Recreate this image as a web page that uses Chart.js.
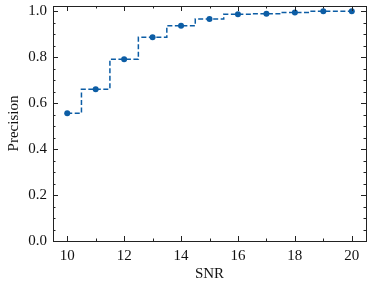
<!DOCTYPE html>
<html>
<head>
<meta charset="utf-8">
<script src="https://cdn.jsdelivr.net/npm/chart.js@4"></script>
<style>
  html, body { margin: 0; padding: 0; background: #fff; }
  canvas { display: block; }
</style>
</head>
<body>
<canvas id="chart" width="373" height="288"></canvas>
<script>
// data
const snr = [10, 11, 12, 13, 14, 15, 16, 17, 18, 19, 20];
const precision = [0.556, 0.66, 0.79, 0.886, 0.936, 0.965, 0.986, 0.988, 0.994, 0.999, 0.999];

const xTicks = [10, 12, 14, 16, 18, 20];
const xMinor = [11, 13, 15, 17, 19];
const yTicks = [0, 0.2, 0.4, 0.6, 0.8, 1.0];
const yMinor = [0.05, 0.1, 0.15, 0.25, 0.3, 0.35, 0.45, 0.5, 0.55, 0.65, 0.7, 0.75, 0.85, 0.9, 0.95];

const blue = '#0C5DA5';
const axisColor = '#222';
const serif = "'Liberation Serif', 'DejaVu Serif', serif";

// box frame + inward ticks on all four sides, like the matplotlib style
const insideTicks = {
  id: 'insideTicks',
  afterDraw(chart) {
    const { ctx, chartArea: a, scales: { x, y } } = chart;
    ctx.save();
    ctx.strokeStyle = axisColor;
    ctx.lineWidth = 1;
    ctx.strokeRect(Math.round(a.left) + 0.5, Math.round(a.top) + 0.5,
      Math.round(a.right - a.left), Math.round(a.bottom - a.top));
    ctx.beginPath();
    const xt = (vals, len) => vals.forEach(v => {
      const px = Math.round(x.getPixelForValue(v)) + 0.5;
      ctx.moveTo(px, a.bottom); ctx.lineTo(px, a.bottom - len);
      ctx.moveTo(px, a.top); ctx.lineTo(px, a.top + len);
    });
    const yt = (vals, len) => vals.forEach(v => {
      const py = Math.round(y.getPixelForValue(v)) + 0.5;
      ctx.moveTo(a.left, py); ctx.lineTo(a.left + len, py);
      ctx.moveTo(a.right, py); ctx.lineTo(a.right - len, py);
    });
    xt(xTicks, 5); xt(xMinor, 2.5);
    yt(yTicks, 5); yt(yMinor, 2.5);
    ctx.stroke();
    ctx.restore();
  }
};

new Chart(document.getElementById('chart'), {
  type: 'line',
  data: {
    datasets: [{
      data: snr.map((s, i) => ({ x: s, y: precision[i] })),
      borderColor: blue,
      backgroundColor: blue,
      borderWidth: 1.5,
      borderDash: [5, 2.5],
      stepped: 'middle',
      pointRadius: 3,
      pointBorderWidth: 0,
      fill: false
    }]
  },
  options: {
    responsive: false,
    animation: false,
    layout: { padding: { top: 6, right: 7, left: 0, bottom: 0 } },
    plugins: { legend: { display: false }, tooltip: { enabled: false } },
    scales: {
      x: {
        type: 'linear',
        min: 9.5,
        max: 20.5,
        afterBuildTicks: s => { s.ticks = xTicks.map(v => ({ value: v })); },
        afterFit: s => { s.height = 47; s.paddingLeft = 0; s.paddingRight = 0; },
        grid: { display: false, drawTicks: false },
        border: { display: false },
        ticks: {
          color: '#111', padding: 6,
          font: { family: serif, size: 15 },
          callback: v => String(v)
        },
        title: {
          display: true, text: 'SNR', color: '#111',
          font: { family: serif, size: 15 },
          padding: { top: 0, bottom: 5 }
        }
      },
      y: {
        min: 0,
        max: 1.022,
        afterBuildTicks: s => { s.ticks = yTicks.map(v => ({ value: v })); },
        afterFit: s => { s.width = 53; s.paddingTop = 0; s.paddingBottom = 0; },
        grid: { display: false, drawTicks: false },
        border: { display: false },
        ticks: {
          color: '#111', padding: 6,
          font: { family: serif, size: 15 },
          callback: v => v.toFixed(1)
        },
        title: {
          display: true, text: 'Precision', color: '#111',
          font: { family: serif, size: 15 },
          padding: { top: 5, bottom: 0 }
        }
      }
    }
  },
  plugins: [insideTicks]
});
</script>
</body>
</html>
